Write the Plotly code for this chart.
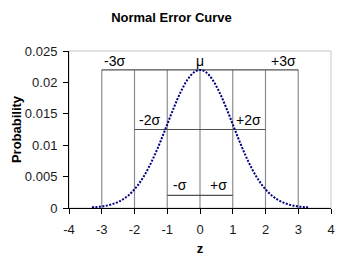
import plotly.graph_objects as go

# ---- data ----
z_vals = [-3.3, -3.2, -3.1, -3.0, -2.9, -2.8, -2.7, -2.6, -2.5, -2.4, -2.3, -2.2, -2.1, -2.0,
          -1.9, -1.8, -1.7, -1.6, -1.5, -1.4, -1.3, -1.2, -1.1, -1.0, -0.9, -0.8, -0.7, -0.6,
          -0.5, -0.4, -0.3, -0.2, -0.1, 0.0, 0.1, 0.2, 0.3, 0.4, 0.5, 0.6, 0.7, 0.8, 0.9, 1.0,
          1.1, 1.2, 1.3, 1.4, 1.5, 1.6, 1.7, 1.8, 1.9, 2.0, 2.1, 2.2, 2.3, 2.4, 2.5, 2.6, 2.7,
          2.8, 2.9, 3.0, 3.1, 3.2, 3.3]
prob_vals = [0.00010, 0.00013, 0.00018, 0.00024, 0.00033, 0.00044, 0.00057, 0.00075, 0.00097,
             0.00123, 0.00156, 0.00195, 0.00242, 0.00298, 0.00362, 0.00435, 0.00518, 0.00611,
             0.00714, 0.00825, 0.00944, 0.01070, 0.01200, 0.01333, 0.01466, 0.01596, 0.01721,
             0.01836, 0.01940, 0.02029, 0.02102, 0.02155, 0.02187, 0.02198, 0.02187, 0.02155,
             0.02102, 0.02029, 0.01940, 0.01836, 0.01721, 0.01596, 0.01466, 0.01333, 0.01200,
             0.01070, 0.00944, 0.00825, 0.00714, 0.00611, 0.00518, 0.00435, 0.00362, 0.00298,
             0.00242, 0.00195, 0.00156, 0.00123, 0.00097, 0.00075, 0.00057, 0.00044, 0.00033,
             0.00024, 0.00018, 0.00013, 0.00010]

sigma_marks = [-3, -2, -1, 0, 1, 2, 3]
band_levels = [0.0220, 0.0125, 0.0020]       # heights of the ±3σ, ±2σ, ±1σ bars
band_halfwidth = [3, 2, 1]

label_text = ["-3σ", "μ", "+3σ", "-2σ", "+2σ", "-σ", "+σ"]
label_x = [-3.0, 0.0, 3.0, -1.15, 1.05, -0.6, 0.55]
label_y = [0.0234, 0.0234, 0.0234, 0.0140, 0.0140, 0.0036, 0.0036]
label_anchor = ["left", "center", "right", "right", "left", "center", "center"]

x_ticks = [-4, -3, -2, -1, 0, 1, 2, 3, 4]
x_tick_text = ["-4", "-3", "-2", "-1", "0", "1", "2", "3", "4"]
y_ticks = [0, 0.005, 0.01, 0.015, 0.02, 0.025]
y_tick_text = ["0", "0.005", "0.01", "0.015", "0.02", "0.025"]

FONT = "Liberation Sans, Arial, sans-serif"

fig = go.Figure()

shapes = []
# plot frame (light gray top/right)
shapes.append(dict(type="rect", xref="paper", yref="paper", x0=0, x1=1, y0=0, y1=1,
                   line=dict(color="#c8c8c8", width=1), layer="below"))
# vertical sigma lines
for xv in sigma_marks:
    shapes.append(dict(type="line", xref="x", yref="y", x0=xv, x1=xv, y0=0, y1=band_levels[0],
                       line=dict(color="#8c8c8c", width=1.2), layer="below"))
# horizontal band lines
for lvl, hw in zip(band_levels, band_halfwidth):
    shapes.append(dict(type="line", xref="x", yref="y", x0=-hw, x1=hw, y0=lvl, y1=lvl,
                       line=dict(color="#505050", width=1.2), layer="below"))

fig.add_trace(go.Scatter(
    x=z_vals, y=prob_vals, mode="lines",
    line=dict(color="#000080", width=2, dash="2px,1.5px", shape="spline"),
    showlegend=False, hoverinfo="skip"))

annotations = []
for t, xv, yv, anc in zip(label_text, label_x, label_y, label_anchor):
    annotations.append(dict(text=t, x=xv, y=yv, xref="x", yref="y", showarrow=False,
                            xanchor=anc, yanchor="middle",
                            font=dict(family=FONT, size=14, color="black")))

fig.update_layout(
    width=343, height=261,
    margin=dict(l=69, r=12, t=51, b=53),
    paper_bgcolor="white", plot_bgcolor="white",
    title=dict(text="<b>Normal Error Curve</b>", x=0.5, xref="container", xanchor="center",
               y=1 - 17 / 261, yref="container", yanchor="middle",
               font=dict(family=FONT, size=13, color="black")),
    shapes=shapes, annotations=annotations,
    font=dict(family=FONT, size=13, color="#1a1a1a"),
)
fig.update_xaxes(range=[-4, 4], tickvals=x_ticks, ticktext=x_tick_text, ticks="outside",
                 ticklen=5, automargin=False,
                 tickcolor="black", showline=True, linecolor="black", linewidth=1,
                 showgrid=False, zeroline=False, ticklabelstandoff=4,
                 tickfont=dict(family=FONT, size=13, color="#1a1a1a"),
                 title=dict(text="<b>z</b>", font=dict(family=FONT, size=13, color="black"),
                            standoff=8))
fig.update_yaxes(range=[0, 0.025], tickvals=y_ticks, ticktext=y_tick_text, ticks="outside",
                 ticklen=5, automargin=False,
                 tickcolor="black", showline=True, linecolor="black", linewidth=1,
                 showgrid=False, zeroline=False, ticklabelstandoff=3,
                 tickfont=dict(family=FONT, size=13, color="#1a1a1a"),
                 title=dict(text="<b>Probability</b>",
                            font=dict(family=FONT, size=13, color="black"), standoff=0))

fig.write_html("out.html")
